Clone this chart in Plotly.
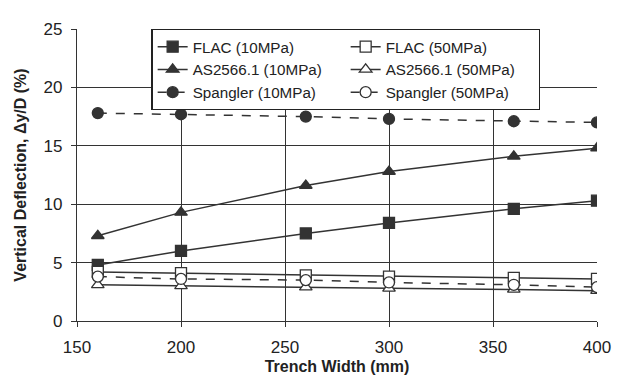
import plotly.graph_objects as go

trench_width = [160, 200, 260, 300, 360, 400]
flac_10 = [4.8, 6.0, 7.5, 8.4, 9.6, 10.3]
flac_50 = [4.2, 4.1, 3.9, 3.8, 3.7, 3.6]
as_10 = [7.3, 9.3, 11.6, 12.8, 14.1, 14.8]
as_50 = [3.1, 3.0, 2.9, 2.8, 2.7, 2.6]
sp_10 = [17.8, 17.7, 17.5, 17.3, 17.1, 17.0]
sp_50 = [3.8, 3.6, 3.5, 3.3, 3.1, 2.9]

C = "#333333"
series = [
    ("FLAC (10MPa)", flac_10, "square", "solid", C),
    ("FLAC (50MPa)", flac_50, "square", "solid", "white"),
    ("AS2566.1 (10MPa)", as_10, "triangle-up", "solid", C),
    ("AS2566.1 (50MPa)", as_50, "triangle-up", "solid", "white"),
    ("Spangler (10MPa)", sp_10, "circle", "dash", C),
    ("Spangler (50MPa)", sp_50, "circle", "dash", "white"),
]

fig = go.Figure()
for name, ys, sym, dash, fill in series:
    fig.add_trace(go.Scatter(
        x=trench_width, y=ys, name=name, mode="lines+markers",
        line=dict(color=C, width=1.5, dash=dash),
        marker=dict(symbol=sym, size=11, color=fill, line=dict(color=C, width=1.3)),
    ))

fig.update_layout(
    width=615, height=377,
    margin=dict(l=62, r=21, t=13, b=62),
    paper_bgcolor="white", plot_bgcolor="white",
    font=dict(family="Liberation Sans, Arial", size=17, color="#222"),
    showlegend=True,
    legend=dict(
        orientation="h", x=0.143, y=1.0, xanchor="left", yanchor="top",
        entrywidth=148, entrywidthmode="pixels",
        bgcolor="white", bordercolor="#222", borderwidth=1.3,
        font=dict(size=15.2), itemwidth=30, tracegroupgap=0,
    ),
    xaxis=dict(
        range=[150, 400], tickvals=[150, 200, 250, 300, 350, 400],
        showgrid=True, gridcolor="#333", gridwidth=1,
        showline=True, linecolor="#333", linewidth=1.3, mirror=False,
        ticks="outside", ticklen=5, tickcolor="#333", ticklabelstandoff=5,
        automargin=True,
        title=dict(text="<b>Trench Width (mm)</b>", font=dict(size=16), standoff=5),
        zeroline=False,
    ),
    yaxis=dict(
        range=[0, 25], tickvals=[0, 5, 10, 15, 20, 25],
        showgrid=True, gridcolor="#333", gridwidth=1,
        showline=True, linecolor="#333", linewidth=1.3,
        ticks="outside", ticklen=5, tickcolor="#333", ticklabelstandoff=5,
        automargin=True,
        title=dict(text="<b>Vertical Deflection, \u0394y/D (%)</b>", font=dict(size=16), standoff=12),
        zeroline=False,
    ),
)
fig.write_html("out.html")
